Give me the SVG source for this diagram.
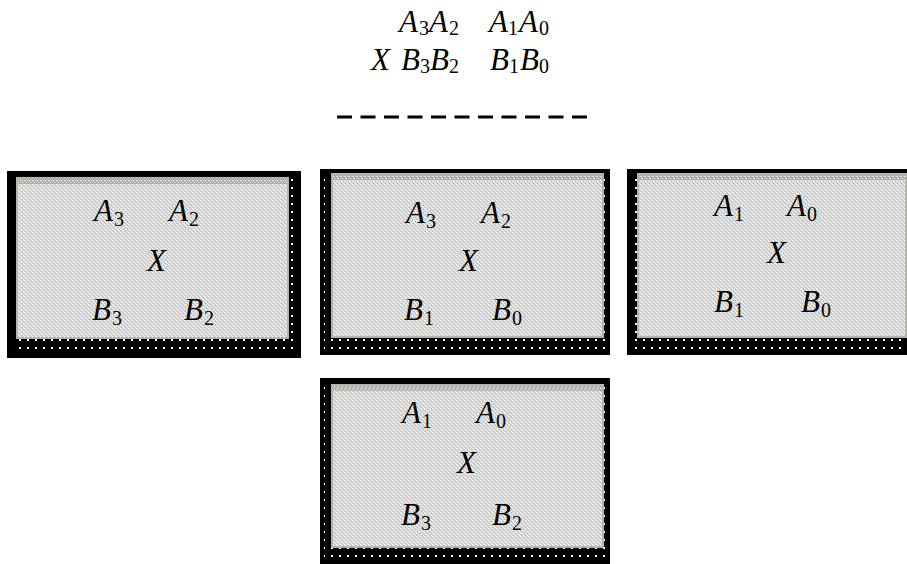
<svg xmlns="http://www.w3.org/2000/svg" width="907" height="564" viewBox="0 0 907 564">
<style>
.m{font-family:"Liberation Serif",serif;font-style:italic;font-size:31px;fill:#000}
.s{font-family:"Liberation Serif",serif;font-style:normal;font-size:20px;fill:#000}
.frame{fill:#000}
.inner{fill:url(#tex);stroke:#b3b7a3;stroke-width:2}
.band{fill:url(#topband)}
.dots{fill:url(#dots)}
</style>
<defs>
<pattern id="tex" width="4" height="4" patternUnits="userSpaceOnUse">
<rect width="4" height="4" fill="#d4d4d4"/>
<rect x="0" y="0" width="1" height="1" fill="#ffffff"/>
<rect x="2" y="2" width="1" height="1" fill="#ffffff"/>
<rect x="1" y="1" width="1" height="1" fill="#efefef"/>
<rect x="3" y="3" width="1" height="1" fill="#efefef"/>
<rect x="1" y="3" width="1" height="1" fill="#bababa"/>
<rect x="3" y="1" width="1" height="1" fill="#bababa"/>
</pattern>
<pattern id="topband" width="4" height="4" patternUnits="userSpaceOnUse">
<rect width="4" height="4" fill="#b0b0b0"/>
<rect x="0" y="0" width="2" height="1" fill="#e4e4e4"/>
<rect x="2" y="2" width="1" height="1" fill="#ffffff"/>
</pattern>
<pattern id="dots" width="8" height="8" patternUnits="userSpaceOnUse">
<rect width="8" height="8" fill="#000"/>
<rect x="3" y="3" width="2" height="2" fill="#ffffff"/>
</pattern>
</defs>

<g id="header">
<text class="m" y="32"><tspan x="399">A</tspan><tspan class="s" x="419" y="35">3</tspan><tspan x="429" y="32">A</tspan><tspan class="s" x="449" y="35">2</tspan><tspan x="489" y="32">A</tspan><tspan class="s" x="508" y="35">1</tspan><tspan x="519" y="32">A</tspan><tspan class="s" x="539" y="35">0</tspan></text>
<text class="m" y="70"><tspan x="371">X</tspan><tspan x="401">B</tspan><tspan class="s" x="420" y="73">3</tspan><tspan x="430" y="70">B</tspan><tspan class="s" x="449" y="73">2</tspan><tspan x="490" y="70">B</tspan><tspan class="s" x="509" y="73">1</tspan><tspan x="520" y="70">B</tspan><tspan class="s" x="539" y="73">0</tspan></text>
<line x1="337" y1="117" x2="587" y2="117" stroke="#000" stroke-width="3" stroke-dasharray="15 8.5"/>
</g>

<g id="box1">
<rect class="frame" x="7" y="171" width="294" height="187"/>
<rect class="dots" x="288" y="178" width="10" height="162"/>
<rect class="dots" x="13" y="338" width="280" height="15"/>
<rect class="inner" x="17" y="178" width="271" height="160"/>
<rect class="band" x="18" y="179" width="269" height="5"/>
<text class="m" y="221"><tspan x="94">A</tspan><tspan class="s" x="114" y="226">3</tspan><tspan x="169" y="221">A</tspan><tspan class="s" x="189" y="226">2</tspan></text>
<text class="m" x="147" y="271">X</text>
<text class="m" y="320"><tspan x="92">B</tspan><tspan class="s" x="112" y="325">3</tspan><tspan x="184" y="320">B</tspan><tspan class="s" x="204" y="325">2</tspan></text>
</g>

<g id="box2">
<rect class="frame" x="320" y="169" width="290" height="186"/>
<rect class="dots" x="324" y="174" width="8" height="163"/>
<rect class="dots" x="603" y="174" width="7" height="163"/>
<rect class="dots" x="324" y="337" width="282" height="15"/>
<rect class="inner" x="332" y="174" width="271" height="163"/>
<rect class="band" x="333" y="175" width="269" height="5"/>
<text class="m" y="223"><tspan x="406">A</tspan><tspan class="s" x="426" y="228">3</tspan><tspan x="481" y="223">A</tspan><tspan class="s" x="501" y="228">2</tspan></text>
<text class="m" x="459" y="271">X</text>
<text class="m" y="320"><tspan x="404">B</tspan><tspan class="s" x="424" y="325">1</tspan><tspan x="492" y="320">B</tspan><tspan class="s" x="512" y="325">0</tspan></text>
</g>

<g id="box3">
<rect class="frame" x="627" y="169" width="280" height="186"/>
<rect class="dots" x="631" y="174" width="7" height="163"/>
<rect class="dots" x="631" y="337" width="276" height="15"/>
<rect class="inner" x="638" y="174" width="268" height="163"/>
<rect class="band" x="639" y="175" width="267" height="5"/>
<text class="m" y="216"><tspan x="714">A</tspan><tspan class="s" x="734" y="221">1</tspan><tspan x="787" y="216">A</tspan><tspan class="s" x="807" y="221">0</tspan></text>
<text class="m" x="767" y="263">X</text>
<text class="m" y="312"><tspan x="714">B</tspan><tspan class="s" x="734" y="317">1</tspan><tspan x="801" y="312">B</tspan><tspan class="s" x="821" y="317">0</tspan></text>
</g>

<g id="box4">
<rect class="frame" x="320" y="378" width="290" height="186"/>
<rect class="dots" x="324" y="385" width="8" height="162"/>
<rect class="dots" x="603" y="385" width="7" height="162"/>
<rect class="dots" x="324" y="547" width="282" height="15"/>
<rect class="inner" x="332" y="385" width="271" height="162"/>
<rect class="band" x="333" y="386" width="269" height="5"/>
<text class="m" y="423"><tspan x="402">A</tspan><tspan class="s" x="422" y="428">1</tspan><tspan x="476" y="423">A</tspan><tspan class="s" x="496" y="428">0</tspan></text>
<text class="m" x="457" y="473">X</text>
<text class="m" y="525"><tspan x="401">B</tspan><tspan class="s" x="421" y="530">3</tspan><tspan x="492" y="525">B</tspan><tspan class="s" x="512" y="530">2</tspan></text>
</g>
</svg>
